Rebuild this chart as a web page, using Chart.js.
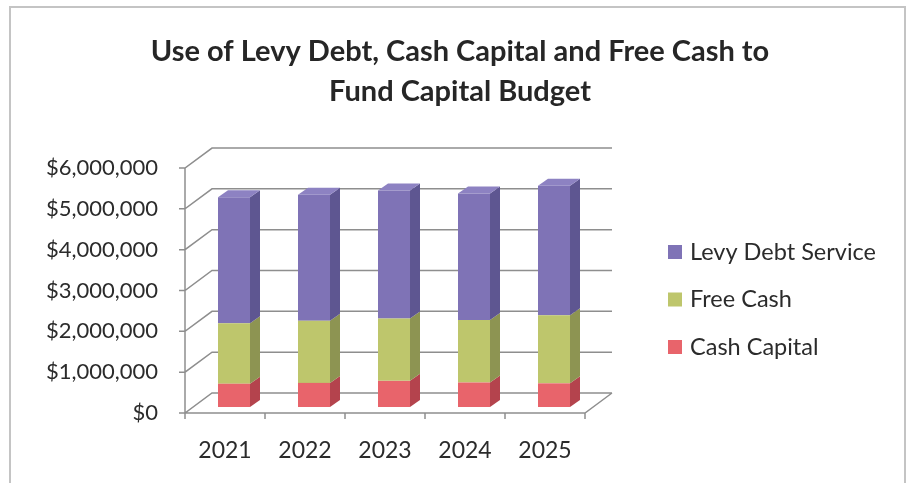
<!DOCTYPE html>
<html>
<head>
<meta charset="utf-8">
<title>Capital Budget Funding</title>
<script src="https://cdn.jsdelivr.net/npm/chart.js@4.4.1/dist/chart.umd.min.js"></script>
<style>
  html, body { margin: 0; padding: 0; background: #fff; }
  #wrap { position: relative; width: 912px; height: 483px; }
</style>
</head>
<body>
<div id="wrap"><canvas id="budgetChart" width="912" height="483"></canvas></div>
<script>
// fiscal years and the three funding sources (stacked bottom to top)
var years = ['2021', '2022', '2023', '2024', '2025'];
var cashCapital = [570000, 590000, 640000, 600000, 580000];
var freeCash = [1480000, 1520000, 1530000, 1530000, 1670000];
var levyDebt = [3090000, 3090000, 3130000, 3100000, 3170000];

var yMin = 0;
var yMax = 6000000;
var yStep = 1000000;

var seriesNames = ['Cash Capital', 'Free Cash', 'Levy Debt Service'];
var frontColors = ['#e8646b', '#bec66c', '#7f73b6'];
var sideColors = ['#b4434d', '#8d9452', '#5e5691'];
var topColors = ['#ee8a8e', '#cdd489', '#8d82c2'];

// 3d look: depth of the walls and of the columns
var WALL_DX = 27, WALL_DY = -20;
var BAR_SHIFT_X = 9, BAR_SHIFT_Y = -6;
var BAR_DX = 10, BAR_DY = -7;
var GRID_COLOR = '#8e8e8e';
var TEXT_COLOR = '#2b2b2b';

var fakeDepth = {
  id: 'fakeDepth',
  beforeDraw: function (chart) {
    var ctx = chart.ctx;
    ctx.save();
    ctx.strokeStyle = '#c4c4c4';
    ctx.lineWidth = 2;
    ctx.beginPath();
    ctx.moveTo(10, 490);
    ctx.lineTo(10, 7);
    ctx.lineTo(905, 7);
    ctx.lineTo(905, 490);
    ctx.stroke();
    ctx.restore();
  },
  beforeDatasetsDraw: function (chart) {
    var ctx = chart.ctx;
    var area = chart.chartArea;
    var ys = chart.scales.y;
    var xs = chart.scales.x;
    ctx.save();
    ctx.strokeStyle = GRID_COLOR;
    ctx.lineWidth = 1.5;
    ctx.beginPath();
    // left wall + back wall lines
    ys.ticks.forEach(function (t) {
      var py = ys.getPixelForValue(t.value);
      ctx.moveTo(area.left - 6, py);
      ctx.lineTo(area.left, py);
      ctx.lineTo(area.left + WALL_DX, py + WALL_DY);
      ctx.lineTo(area.right + WALL_DX, py + WALL_DY);
    });
    // front vertical axis
    ctx.moveTo(area.left, ys.getPixelForValue(yMax));
    ctx.lineTo(area.left, area.bottom);
    // floor
    ctx.lineTo(area.right, area.bottom);
    ctx.lineTo(area.right + WALL_DX, area.bottom + WALL_DY);
    // category ticks
    var half = (xs.getPixelForValue(1) - xs.getPixelForValue(0)) / 2;
    for (var i = 0; i <= years.length; i++) {
      var px = xs.getPixelForValue(0) - half + i * half * 2;
      ctx.moveTo(px, area.bottom);
      ctx.lineTo(px, area.bottom + 6);
    }
    ctx.stroke();
    ctx.restore();

    // columns sit a bit inside the box
    ctx.save();
    ctx.translate(BAR_SHIFT_X, BAR_SHIFT_Y);
  },
  afterDatasetsDraw: function (chart) {
    var ctx = chart.ctx;
    var last = chart.data.datasets.length - 1;
    chart.data.datasets.forEach(function (ds, di) {
      var meta = chart.getDatasetMeta(di);
      meta.data.forEach(function (bar) {
        var p = bar.getProps(['x', 'y', 'base', 'width'], true);
        var r = p.x + p.width / 2;
        var l = p.x - p.width / 2;
        ctx.fillStyle = sideColors[di];
        ctx.beginPath();
        ctx.moveTo(r, p.y);
        ctx.lineTo(r + BAR_DX, p.y + BAR_DY);
        ctx.lineTo(r + BAR_DX, p.base + BAR_DY);
        ctx.lineTo(r, p.base);
        ctx.closePath();
        ctx.fill();
        if (di === last) {
          ctx.fillStyle = topColors[di];
          ctx.beginPath();
          ctx.moveTo(l, p.y);
          ctx.lineTo(l + BAR_DX, p.y + BAR_DY);
          ctx.lineTo(r + BAR_DX, p.y + BAR_DY);
          ctx.lineTo(r, p.y);
          ctx.closePath();
          ctx.fill();
        }
      });
    });
    ctx.restore();
  },
  afterDraw: function (chart) {
    // legend, top series first
    var ctx = chart.ctx;
    var items = chart.data.datasets.slice().reverse();
    ctx.save();
    ctx.font = '23.5px Lato';
    ctx.textBaseline = 'middle';
    ctx.textAlign = 'left';
    items.forEach(function (ds, i) {
      var cy = 252 + i * 47.5;
      ctx.fillStyle = ds.backgroundColor;
      ctx.fillRect(668, cy - 7, 14, 14);
      ctx.fillStyle = TEXT_COLOR;
      ctx.fillText(ds.label, 690, cy);
    });
    ctx.restore();
  }
};

var datasets = [cashCapital, freeCash, levyDebt].map(function (vals, i) {
  return {
    label: seriesNames[i],
    data: vals,
    backgroundColor: frontColors[i],
    borderWidth: 0,
    barPercentage: 0.4,
    categoryPercentage: 1.0,
    yAxisID: 'y'
  };
});

new Chart(document.getElementById('budgetChart'), {
  type: 'bar',
  data: { labels: years, datasets: datasets },
  options: {
    responsive: false,
    animation: false,
    layout: { padding: { left: 8, right: 0, top: 0, bottom: 0 } },
    plugins: {
      legend: { display: false },
      tooltip: { enabled: false },
      title: {
        display: true,
        text: ['Use of Levy Debt, Cash Capital and Free Cash to', 'Fund Capital Budget'],
        color: '#262626',
        font: { family: 'Lato', size: 29, weight: 'bold', lineHeight: 1.38 },
        padding: { top: 32, bottom: 56 }
      }
    },
    scales: {
      x: {
        stacked: true,
        grid: { display: false, drawTicks: false },
        border: { display: false },
        ticks: { color: TEXT_COLOR, font: { family: 'Lato', size: 23 }, padding: 24 },
        afterFit: function (s) { s.height = 70; }
      },
      y: {
        stacked: true,
        min: yMin,
        max: yMax,
        grid: { display: false, drawTicks: false },
        border: { display: false },
        ticks: {
          stepSize: yStep,
          color: TEXT_COLOR,
          font: { family: 'Lato', size: 22 },
          padding: 27,
          callback: function (v) { return '$' + Number(v).toLocaleString('en-US'); }
        },
        afterFit: function (s) { s.width = 177; }
      },
      // keeps the right-hand side free for the legend
      legendSpace: {
        axis: 'y',
        position: 'right',
        grid: { display: false, drawTicks: false },
        border: { display: false },
        ticks: { display: false },
        afterFit: function (s) { s.width = 327; }
      }
    }
  },
  plugins: [fakeDepth]
});
</script>
</body>
</html>
